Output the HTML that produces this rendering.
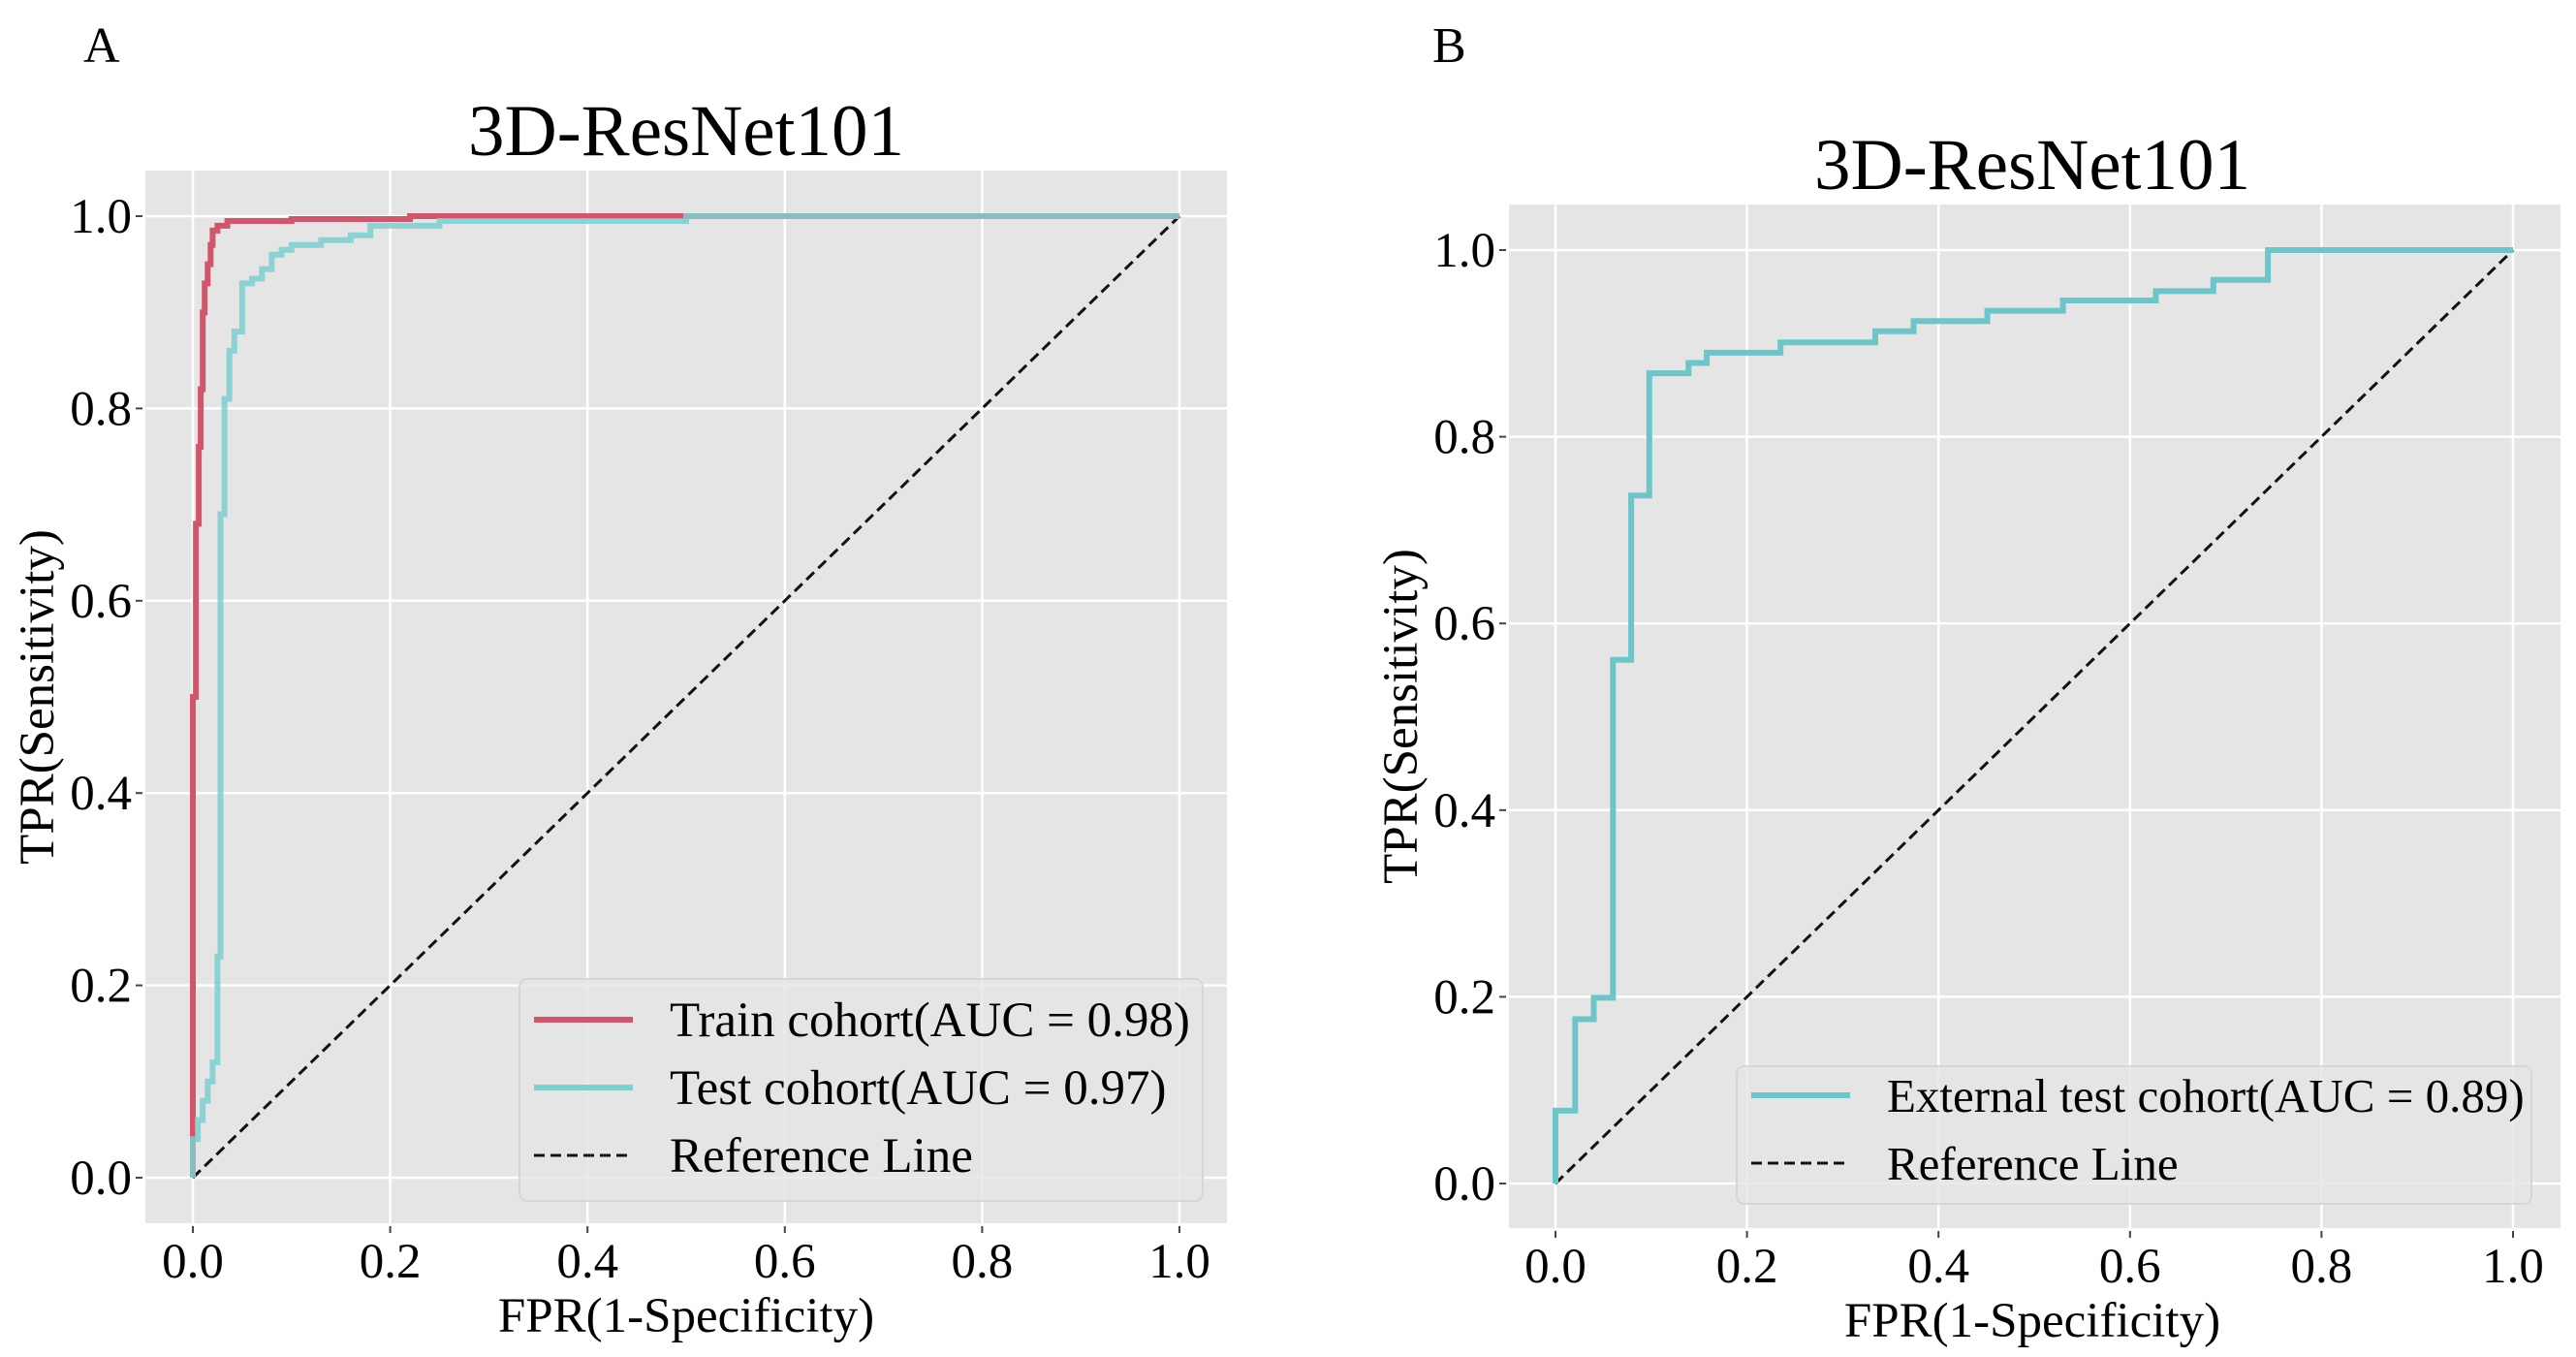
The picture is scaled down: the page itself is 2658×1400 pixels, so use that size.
<!DOCTYPE html>
<html><head><meta charset="utf-8"><style>
html,body{margin:0;padding:0;background:#fff;}
svg{display:block;font-family:"Liberation Serif",serif;}
</style></head><body>
<svg id="fig" width="2658" height="1400" viewBox="0 0 2658 1400">
</svg>
<script>
// ---- data ----
const ticks = [0, 0.2, 0.4, 0.6, 0.8, 1.0];
const tickLabels = ["0.0", "0.2", "0.4", "0.6", "0.8", "1.0"];
const trainFpr = [0,0,0.003,0.003,0.006,0.006,0.008,0.008,0.01,0.01,0.012,0.012,0.015,0.015,0.018,0.018,0.02,0.02,0.025,0.025,0.035,0.035,0.1,0.1,0.22,0.22,1];
const trainTpr = [0,0.5,0.5,0.68,0.68,0.76,0.76,0.82,0.82,0.9,0.9,0.93,0.93,0.95,0.95,0.97,0.97,0.985,0.985,0.99,0.99,0.995,0.995,0.997,0.997,1,1];
const testFpr = [0,0,0.005,0.005,0.01,0.01,0.015,0.015,0.02,0.02,0.025,0.025,0.028,0.028,0.032,0.032,0.037,0.037,0.042,0.042,0.05,0.05,0.06,0.06,0.07,0.07,0.08,0.08,0.09,0.09,0.1,0.1,0.13,0.13,0.16,0.16,0.18,0.18,0.25,0.25,0.5,0.5,1];
const testTpr = [0,0.04,0.04,0.06,0.06,0.08,0.08,0.1,0.1,0.12,0.12,0.23,0.23,0.69,0.69,0.81,0.81,0.86,0.86,0.88,0.88,0.93,0.93,0.935,0.935,0.945,0.945,0.96,0.96,0.965,0.965,0.97,0.97,0.975,0.975,0.98,0.98,0.99,0.99,0.995,0.995,1,1];
const extFpr = [0,0,0.0205,0.0205,0.040,0.040,0.060,0.060,0.079,0.079,0.098,0.098,0.139,0.139,0.158,0.158,0.235,0.235,0.334,0.334,0.374,0.374,0.451,0.451,0.530,0.530,0.627,0.627,0.687,0.687,0.744,0.744,1];
const extTpr = [0,0.078,0.078,0.176,0.176,0.199,0.199,0.561,0.561,0.737,0.737,0.868,0.868,0.879,0.879,0.890,0.890,0.901,0.901,0.913,0.913,0.924,0.924,0.935,0.935,0.946,0.946,0.956,0.956,0.968,0.968,1,1];

const NS = "http://www.w3.org/2000/svg";
const svg = document.getElementById("fig");
function mk(tag, attrs, parent, text){
  const e = document.createElementNS(NS, tag);
  for (const k in attrs) e.setAttribute(k, attrs[k]);
  if (text !== undefined) e.textContent = text;
  (parent || svg).appendChild(e);
  return e;
}

function panel(p){
  const g = mk("g", {});
  
  
  const sx = v => p.x0 + v * (p.x1 - p.x0);
  const sy = v => p.y0 + v * (p.y1 - p.y0);
  const bg = mk("rect", {x:p.bx0, y:p.by0, width:p.bx1-p.bx0, height:p.by1-p.by0, fill:"#e5e5e5"}, g);
  
  
  ticks.forEach((t, i) => {
    const gx = mk("line", {x1:sx(t), x2:sx(t), y1:p.by0, y2:p.by1, stroke:"#fff", "stroke-width":2.5}, g);
    
    
    const gy = mk("line", {x1:p.bx0, x2:p.bx1, y1:sy(t), y2:sy(t), stroke:"#fff", "stroke-width":2.5}, g);
    
    
    mk("line", {x1:sx(t), x2:sx(t), y1:p.by1+3, y2:p.by1+10, stroke:"#444", "stroke-width":2}, g);
    mk("line", {x1:p.bx0-3, x2:p.bx0-10, y1:sy(t), y2:sy(t), stroke:"#444", "stroke-width":2}, g);
    const xt = mk("text", {x:sx(t), y:p.by1+56, "font-size":51, "text-anchor":"middle", fill:"#000"}, g, tickLabels[i]);
    
    
    const yt = mk("text", {x:p.bx0-14, y:sy(t)+17, "font-size":51, "text-anchor":"end", fill:"#000"}, g, tickLabels[i]);
    
    
  });
  const ref = mk("line", {x1:sx(0), y1:sy(0), x2:sx(1), y2:sy(1), stroke:"#111", "stroke-width":3, "stroke-dasharray":"11,6"}, g);
  
  
  p.series.forEach(s => {
    const pts = s.fpr.map((f, i) => sx(f).toFixed(1) + "," + sy(s.tpr[i]).toFixed(1)).join(" ");
    const pl = mk("polyline", {points:pts, fill:"none", stroke:s.color, "stroke-width":6, "stroke-opacity":s.op, "stroke-linejoin":"miter"}, g);
    
    
  });
  const title = mk("text", {x:p.tx, y:p.ty, "font-size":75, "text-anchor":"middle"}, g, "3D-ResNet101");
  
  
  const xl = mk("text", {x:p.tx, y:p.by1+112, "font-size":51, "text-anchor":"middle"}, g, "FPR(1-Specificity)");
  
  
  const cy = (p.by0 + p.by1) / 2;
  const yl = mk("text", {x:0, y:0, "font-size":51, "text-anchor":"middle", transform:`translate(${p.ylx},${cy}) rotate(-90)`}, g, "TPR(Sensitivity)");
  
  
  const lg = mk("g", {}, g);
  
  
  mk("rect", {x:p.lx0, y:p.ly0, width:p.lx1-p.lx0, height:p.ly1-p.ly0, rx:8, fill:"#e5e5e5", stroke:"#d6d6d6", "stroke-width":2, "fill-opacity":0.8}, lg);
  p.legend.forEach((e, i) => {
    const y = p.lrow0 + i * p.lstep;
    const ln = mk("line", {x1:p.lx0+15, x2:p.lx0+117, y1:y, y2:y, stroke:e.color, "stroke-width":e.dash?3:6}, lg);
    if (e.dash) ln.setAttribute("stroke-dasharray", "11,6");
    
    
    const tx = mk("text", {x:p.lx0+155, y:y+17, "font-size":p.lfs}, lg, e.label);
    
    
  });
}

panel({name:"panel-a", x0:199, x1:1217, y0:1215, y1:223, bx0:150, bx1:1266, by0:176, by1:1262,
  tx:708, ty:160, ylx:55, lfs:51,
  lx0:536, lx1:1241, ly0:1010, ly1:1239, lrow0:1052, lstep:70,
  series:[{name:"train-roc-curve", fpr:trainFpr, tpr:trainTpr, color:"#d1566c", op:1},
          {name:"test-roc-curve", fpr:testFpr, tpr:testTpr, color:"#7dcfd0", op:0.85}],
  legend:[{label:"Train cohort(AUC = 0.98)", color:"#d1566c"},
          {label:"Test cohort(AUC = 0.97)", color:"#7dcfd0"},
          {label:"Reference Line", color:"#111", dash:true}]});

panel({name:"panel-b", x0:1605, x1:2593, y0:1221, y1:258, bx0:1557, bx1:2642, by0:211, by1:1267,
  tx:2097, ty:195, ylx:1462, lfs:49,
  lx0:1792, lx1:2612, ly0:1100, ly1:1242, lrow0:1130, lstep:70,
  series:[{name:"external-test-roc-curve", fpr:extFpr, tpr:extTpr, color:"#6cc6c9", op:1}],
  legend:[{label:"External test cohort(AUC = 0.89)", color:"#6cc6c9"},
          {label:"Reference Line", color:"#111", dash:true}]});

const a = mk("text", {x:86, y:64, "font-size":52}, svg, "A");


const b = mk("text", {x:1478, y:64, "font-size":52}, svg, "B");


</script>
</body></html>
